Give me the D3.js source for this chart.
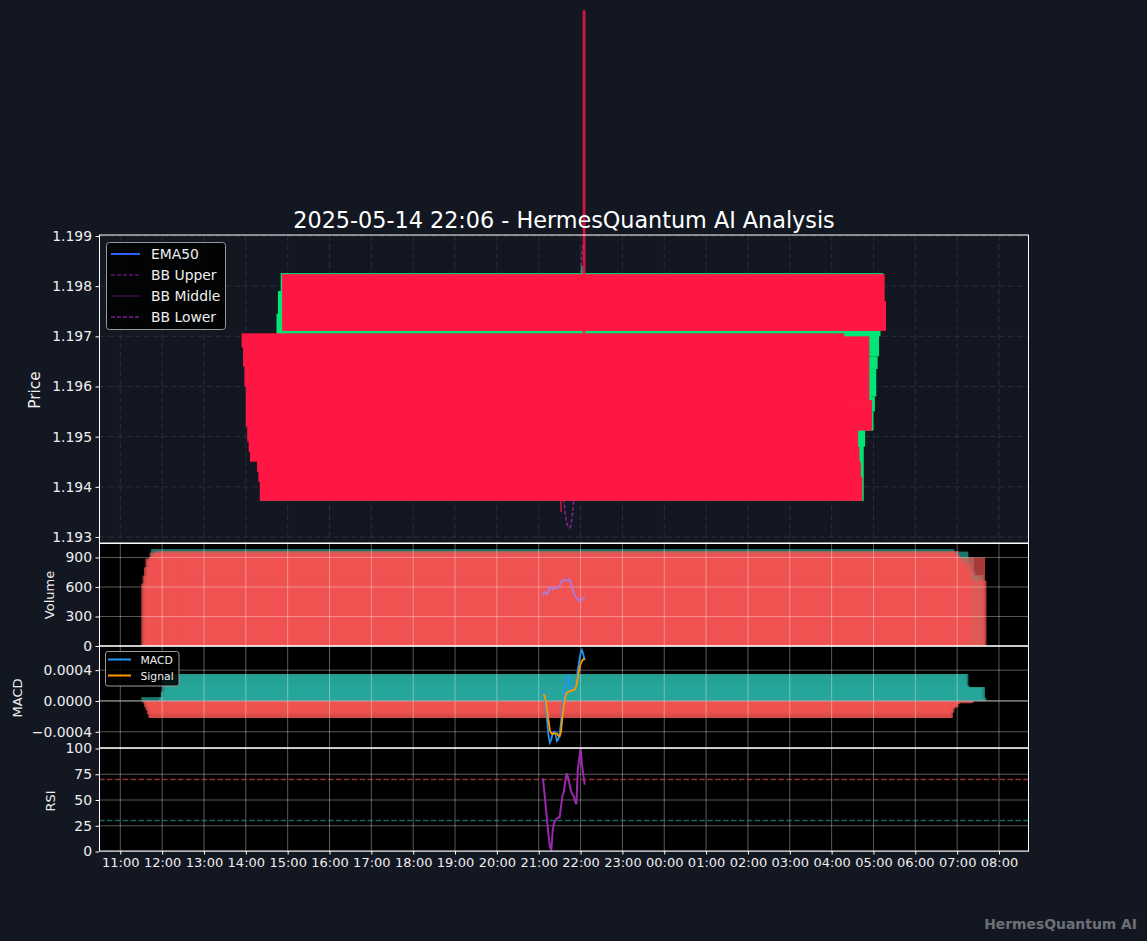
<!DOCTYPE html>
<html><head><meta charset="utf-8">
<script src="https://cdn.jsdelivr.net/npm/d3@7"></script>
<style>body{margin:0;background:#131722;}svg{display:block;font-family:"DejaVu Sans",sans-serif;}</style>
</head><body><svg id="chart" width="1147" height="941"></svg>
<script>
// ---------------- data ----------------
const times = ["2025-05-14 21:06","2025-05-14 21:08","2025-05-14 21:10","2025-05-14 21:12","2025-05-14 21:14","2025-05-14 21:16","2025-05-14 21:18","2025-05-14 21:20","2025-05-14 21:22","2025-05-14 21:24","2025-05-14 21:26","2025-05-14 21:28","2025-05-14 21:30","2025-05-14 21:32","2025-05-14 21:34","2025-05-14 21:36","2025-05-14 21:38","2025-05-14 21:40","2025-05-14 21:42","2025-05-14 21:44","2025-05-14 21:46","2025-05-14 21:48","2025-05-14 21:50","2025-05-14 21:52","2025-05-14 21:54","2025-05-14 21:56","2025-05-14 21:58","2025-05-14 22:00","2025-05-14 22:02","2025-05-14 22:04","2025-05-14 22:06"];
const opens  = [1.19706,1.19690,1.19660,1.19620,1.19560,1.19510,1.19490,1.19455,1.19500,1.19480,1.19515,1.19480,1.19450,1.19420,1.19372,1.19480,1.19650,1.19600,1.19700,1.19573,1.19573,1.19512,1.19550,1.19580,1.19635,1.19660,1.19700,1.19750,1.19740,1.19824,1.19770];
const highs  = [1.19706,1.19700,1.19680,1.19640,1.19580,1.19530,1.19500,1.19510,1.19510,1.19490,1.19520,1.19490,1.19460,1.19430,1.19520,1.19610,1.19660,1.19700,1.19705,1.19610,1.19580,1.19560,1.19590,1.19640,1.19670,1.19750,1.19800,1.19810,1.19840,1.20350,1.20350];
const lows   = [1.19665,1.19630,1.19590,1.19510,1.19480,1.19460,1.19440,1.19450,1.19460,1.19455,1.19470,1.19425,1.19400,1.19350,1.19372,1.19470,1.19590,1.19590,1.19560,1.19560,1.19505,1.19505,1.19540,1.19570,1.19630,1.19650,1.19690,1.19740,1.19730,1.19700,1.19705];
const closes = [1.19678,1.19640,1.19600,1.19520,1.19490,1.19470,1.19450,1.19500,1.19470,1.19460,1.19475,1.19430,1.19410,1.19372,1.19515,1.19600,1.19600,1.19690,1.19573,1.19600,1.19512,1.19550,1.19580,1.19635,1.19660,1.19745,1.19790,1.19790,1.19826,1.19711,1.19711];
const ema50    = [1.19590,1.19588,1.19586,1.19584,1.19581,1.19578,1.19575,1.19573,1.19571,1.19569,1.19567,1.19565,1.19562,1.19559,1.19558,1.19558,1.19559,1.19560,1.19561,1.19562,1.19562,1.19562,1.19563,1.19565,1.19567,1.19570,1.19574,1.19578,1.19583,1.19588,1.19592];
const bbUpper  = [1.19790,1.19792,1.19795,1.19798,1.19800,1.19800,1.19798,1.19795,1.19790,1.19785,1.19780,1.19778,1.19776,1.19775,1.19776,1.19780,1.19785,1.19790,1.19795,1.19798,1.19800,1.19802,1.19804,1.19806,1.19808,1.19812,1.19818,1.19824,1.19870,1.19885,1.19880];
const bbMiddle = [1.19675,1.19662,1.19648,1.19634,1.19620,1.19606,1.19594,1.19588,1.19584,1.19582,1.19580,1.19578,1.19575,1.19572,1.19560,1.19555,1.19560,1.19562,1.19560,1.19558,1.19561,1.19571,1.19588,1.19603,1.19614,1.19628,1.19634,1.19642,1.19670,1.19682,1.19685];
const bbLower  = [1.19560,1.19530,1.19500,1.19470,1.19440,1.19410,1.19390,1.19385,1.19390,1.19392,1.19395,1.19395,1.19393,1.19390,1.19385,1.19380,1.19345,1.19330,1.19320,1.19318,1.19322,1.19340,1.19372,1.19400,1.19420,1.19440,1.19450,1.19460,1.19470,1.19480,1.19490];
const volumes  = [635,716,800,890,870,900,950,985,930,940,965,920,905,880,850,870,820,960,850,800,780,900,760,700,720,680,650,700,720,900,665];
const volumeMA = [519,550,540,525,560,600,595,575,585,590,583,600,614,650,665,672,668,662,670,680,640,590,540,510,495,481,460,455,475,485,501];
const macdLine   = [0.00014,0.00004,-0.00007,-0.00025,-0.00045,-0.00054,-0.00050,-0.00042,-0.00040,-0.00043,-0.00052,-0.00050,-0.00042,-0.00028,-0.00010,0.00008,0.00022,0.00031,0.00033,0.00022,0.00015,0.00014,0.00014,0.00016,0.00027,0.00040,0.00052,0.00062,0.00066,0.00060,0.00053];
const signalLine = [0.00008,0.00008,0.00000,-0.00012,-0.00025,-0.00038,-0.00042,-0.00043,-0.00042,-0.00042,-0.00042,-0.00045,-0.00046,-0.00040,-0.00020,-0.00005,0.00005,0.00010,0.00012,0.00012,0.00013,0.00014,0.00014,0.00015,0.00020,0.00030,0.00040,0.00048,0.00052,0.00054,0.00055];
const macdHist   = [0.00005,-0.00003,-0.00008,-0.00012,-0.00017,-0.00022,-0.00022,-0.00015,-0.00010,-0.00008,-0.00008,-0.00004,0.00002,0.00005,0.00012,0.00033,0.00035,0.00035,0.00020,0.00008,-0.00003,-0.00002,0.00003,0.00008,0.00010,0.00012,0.00015,0.00017,0.00018,0.00018,0.00004];
const rsiValues  = [71,58,44,30,16,5,1,20,28,30,32,33,33,44,54,58,68,76,72,66,59,56,54,49,46,79,90,100,85,74,65];
const priceTicks = [1.193,1.194,1.195,1.196,1.197,1.198,1.199];
const volumeTicks = [0,300,600,900];
const macdTicks = [-0.0004,0,0.0004];
const rsiTicks = [0,25,50,75,100];
const xDomain = ["2025-05-14 10:29:28","2025-05-15 08:43:00"];
const titleText = "2025-05-14 22:06 - HermesQuantum AI Analysis";

// ---------------- setup ----------------
const svg = d3.select("#chart");
const parse = d3.timeParse("%Y-%m-%d %H:%M");
const parseS = d3.timeParse("%Y-%m-%d %H:%M:%S");
const dates = times.map(parse);
const DAY = 864e5;
const L = 99, R = 1029;
const P = {price:[235,543], vol:[543.5,646], macd:[646,748], rsi:[748,851]};
const FONT = '"DejaVu Sans", sans-serif';

const x = d3.scaleTime().domain(xDomain.map(parseS)).range([L, R]);
const yP = d3.scaleLinear().domain([1.19288, 1.19902]).range([543, 235]);
const yV = d3.scaleLinear().domain([0, 1037]).range([646, 544]);
const yM = d3.scaleLinear().domain([-0.00061, 0.000713]).range([748, 646]);
const yR = d3.scaleLinear().domain([0, 100]).range([851.5, 748.5]);

const rows = dates.map((d,i)=>({d, i, o:opens[i], h:highs[i], l:lows[i], c:closes[i], v:volumes[i], up: closes[i] > opens[i]}));

svg.append("rect").attr("width",1147).attr("height",941).attr("fill","#131722");
svg.append("rect").attr("x",L).attr("y",P.price[0]).attr("width",R-L).attr("height",P.price[1]-P.price[0]).attr("fill","#131722");
[P.vol,P.macd,P.rsi].forEach(p=>svg.append("rect").attr("x",L).attr("y",p[0]).attr("width",R-L).attr("height",p[1]-p[0]).attr("fill","#000000"));

const defs = svg.append("defs");
[["cv",P.vol],["cm",P.macd],["cr",P.rsi]].forEach(([id,p])=>{
  defs.append("clipPath").attr("id",id).append("rect").attr("x",L).attr("y",p[0]).attr("width",R-L).attr("height",p[1]-p[0]);
});

const hourTicks = d3.timeHour.range(parse("2025-05-14 11:00"), parse("2025-05-15 08:01"));

// ---------------- price panel ----------------
const gp = svg.append("g");
gp.selectAll(".vg").data(hourTicks).join("line").attr("x1",d=>x(d)).attr("x2",d=>x(d)).attr("y1",P.price[0]).attr("y2",P.price[1])
  .attr("stroke","#2a2e39").attr("stroke-width",1).attr("stroke-dasharray","6,3");
gp.selectAll(".hg").data(priceTicks).join("line").attr("x1",L).attr("x2",R).attr("y1",d=>yP(d)).attr("y2",d=>yP(d))
  .attr("stroke","#2a2e39").attr("stroke-width",1).attr("stroke-dasharray","6,3");

const lineP = arr => d3.line().x((d,i)=>x(dates[i])).y(d=>yP(d))(arr);
gp.append("path").attr("d",lineP(ema50)).attr("fill","none").attr("stroke","#2962ff").attr("stroke-width",1.5);
gp.append("path").attr("d",lineP(bbUpper)).attr("fill","none").attr("stroke","#9c27b0").attr("stroke-opacity",0.75).attr("stroke-width",1.4).attr("stroke-dasharray","4,2");
gp.append("path").attr("d",lineP(bbMiddle)).attr("fill","none").attr("stroke","#9c27b0").attr("stroke-opacity",0.5).attr("stroke-width",1);
gp.append("path").attr("d",lineP(bbLower)).attr("fill","none").attr("stroke","#9c27b0").attr("stroke-opacity",0.85).attr("stroke-width",1.4).attr("stroke-dasharray","4,2");

const bodyX0 = r => x(new Date(+r.d - 0.3*DAY));
const bodyX1 = r => x(new Date(+r.d + 0.3*DAY));
function drawCandles(data, color){
  gp.append("g").selectAll("line").data(data).join("line")
    .attr("x1",r=>x(r.d)).attr("x2",r=>x(r.d)).attr("y1",r=>yP(r.h)).attr("y2",r=>yP(r.l))
    .attr("stroke",color).attr("stroke-opacity",0.8).attr("stroke-width",1.5);
  gp.append("g").selectAll("rect").data(data).join("rect")
    .attr("x",bodyX0).attr("width",r=>bodyX1(r)-bodyX0(r))
    .attr("y",r=>yP(Math.max(r.o,r.c))).attr("height",r=>Math.max(1,Math.abs(yP(r.o)-yP(r.c))))
    .attr("fill",color);
}
drawCandles(rows.filter(r=>r.up), "#00e676");
drawCandles(rows.filter(r=>!r.up), "#ff1744");

// legend
const lg = svg.append("g");
lg.append("rect").attr("x",106.5).attr("y",242.5).attr("width",119).attr("height",87).attr("rx",3)
  .attr("fill","#000").attr("fill-opacity",0.85).attr("stroke","#9a9a9a").attr("stroke-width",1);
const legItems = [
  {t:"EMA50", c:"#2962ff", o:1, dash:null, w:2},
  {t:"BB Upper", c:"#9c27b0", o:0.6, dash:"4,2", w:1.4},
  {t:"BB Middle", c:"#9c27b0", o:0.45, dash:null, w:1.2},
  {t:"BB Lower", c:"#9c27b0", o:0.8, dash:"4,2", w:1.4}];
legItems.forEach((it,k)=>{
  const cy = 254 + k*21;
  lg.append("line").attr("x1",111).attr("x2",140).attr("y1",cy).attr("y2",cy).attr("stroke",it.c).attr("stroke-opacity",it.o)
    .attr("stroke-width",it.w).attr("stroke-dasharray",it.dash);
  lg.append("text").attr("x",151).attr("y",cy+5).text(it.t).attr("fill","#eeeeee").attr("font-size",13.9).attr("font-family",FONT);
});

// ---------------- volume panel (up bars first, then down bars) ----------------
const gv = svg.append("g").attr("clip-path","url(#cv)");
const barX0 = r => x(new Date(+r.d - 0.4*DAY));
const barX1 = r => x(new Date(+r.d + 0.4*DAY));
[rows.filter(r=>r.up), rows.filter(r=>!r.up)].forEach((set,k)=>{
  gv.append("g").selectAll("rect").data(set).join("rect")
    .attr("x",barX0).attr("width",r=>barX1(r)-barX0(r)).attr("y",r=>yV(r.v)).attr("height",r=>yV(0)-yV(r.v))
    .attr("fill",k===0?"#26a69a":"#ef5350").attr("fill-opacity",0.7);
});

// ---------------- macd panel ----------------
const gm = svg.append("g").attr("clip-path","url(#cm)");
gm.selectAll("rect").data(rows).join("rect")
  .attr("x",barX0).attr("width",r=>barX1(r)-barX0(r))
  .attr("y",r=>yM(Math.max(0,macdHist[r.i]))).attr("height",r=>Math.abs(yM(macdHist[r.i])-yM(0)))
  .attr("fill",r=>macdHist[r.i]>=0?"#26a69a":"#ef5350").attr("fill-opacity",0.7);

function grid(p, scale, ticks){
  const g = svg.append("g");
  g.selectAll(".v").data(hourTicks).join("line").attr("x1",d=>x(d)).attr("x2",d=>x(d)).attr("y1",p[0]).attr("y2",p[1])
    .attr("stroke","#fff").attr("stroke-opacity",0.35).attr("stroke-width",1);
  g.selectAll(".h").data(ticks).join("line").attr("x1",L).attr("x2",R).attr("y1",d=>scale(d)).attr("y2",d=>scale(d))
    .attr("stroke","#fff").attr("stroke-opacity",0.35).attr("stroke-width",1);
}
grid(P.vol, yV, volumeTicks);
grid(P.macd, yM, macdTicks);
grid(P.rsi, yR, rsiTicks);

svg.append("line").attr("x1",L).attr("x2",R).attr("y1",yM(0)).attr("y2",yM(0)).attr("stroke","#9e9e9e").attr("stroke-opacity",0.8).attr("stroke-width",1.2);

svg.append("path").attr("d",d3.line().x((d,i)=>x(dates[i])).y(d=>yV(d))(volumeMA))
  .attr("fill","none").attr("stroke","#a77de0").attr("stroke-width",1.8);
svg.append("path").attr("d",d3.line().x((d,i)=>x(dates[i])).y(d=>yM(d))(macdLine))
  .attr("fill","none").attr("stroke","#2196f3").attr("stroke-width",1.8);
svg.append("path").attr("d",d3.line().x((d,i)=>x(dates[i])).y(d=>yM(d))(signalLine))
  .attr("fill","none").attr("stroke","#ff9800").attr("stroke-width",1.8);

// macd legend
const ml = svg.append("g");
ml.append("rect").attr("x",105.5).attr("y",651.5).attr("width",73.5).attr("height",34.5).attr("rx",2.5)
  .attr("fill","#000").attr("fill-opacity",0.85).attr("stroke","#9a9a9a").attr("stroke-width",1);
[["MACD","#2196f3",659.5],["Signal","#ff9800",675.5]].forEach(([t,c,cy])=>{
  ml.append("line").attr("x1",108).attr("x2",131).attr("y1",cy).attr("y2",cy).attr("stroke",c).attr("stroke-width",2);
  ml.append("text").attr("x",140.5).attr("y",cy+4).text(t).attr("fill","#eeeeee").attr("font-size",10.8).attr("font-family",FONT);
});

// ---------------- rsi panel ----------------
svg.append("line").attr("x1",L).attr("x2",R).attr("y1",yR(70)).attr("y2",yR(70)).attr("stroke","#ef5350").attr("stroke-opacity",0.6).attr("stroke-width",1.5).attr("stroke-dasharray","5.5,2.4");
svg.append("line").attr("x1",L).attr("x2",R).attr("y1",yR(30)).attr("y2",yR(30)).attr("stroke","#26a69a").attr("stroke-opacity",0.6).attr("stroke-width",1.5).attr("stroke-dasharray","5.5,2.4");
svg.append("path").attr("d",d3.line().x((d,i)=>x(dates[i])).y(d=>yR(d))(rsiValues))
  .attr("fill","none").attr("stroke","#9c27b0").attr("stroke-width",2);

// ---------------- spines & axes ----------------
[P.price,P.vol,P.macd,P.rsi].forEach(p=>svg.append("rect").attr("x",L+0.5).attr("y",p[0]).attr("width",R-L-1).attr("height",p[1]-p[0])
  .attr("fill","none").attr("stroke","#ffffff").attr("stroke-width",1));

function styleAxis(fs){
  return g=>{
    g.select(".domain").remove();
    g.selectAll(".tick line").attr("stroke","#ffffff");
    g.selectAll(".tick text").attr("fill","#eeeeee").attr("font-size",fs).attr("font-family",FONT);
  };
}
svg.append("g").attr("transform",`translate(${L},0)`).call(d3.axisLeft(yP).tickValues(priceTicks).tickFormat(d3.format(".3f")).tickSize(3.5).tickPadding(3.5)).call(styleAxis(13.9));
svg.append("g").attr("transform",`translate(${L},0)`).call(d3.axisLeft(yV).tickValues(volumeTicks).tickFormat(d3.format("d")).tickSize(3.5).tickPadding(3.5)).call(styleAxis(13.9));
svg.append("g").attr("transform",`translate(${L},0)`).call(d3.axisLeft(yM).tickValues(macdTicks).tickFormat(d3.format(".4f")).tickSize(3.5).tickPadding(3.5)).call(styleAxis(13.9));
svg.append("g").attr("transform",`translate(${L},0)`).call(d3.axisLeft(yR).tickValues(rsiTicks).tickFormat(d3.format("d")).tickSize(3.5).tickPadding(3.5)).call(styleAxis(13.9));
svg.append("g").attr("transform",`translate(0,${P.rsi[1]})`).call(d3.axisBottom(x).tickValues(hourTicks).tickFormat(d3.timeFormat("%H:%M")).tickSize(3.5).tickPadding(3.5)).call(styleAxis(13));

const ylab = (t,cx,cy,fs)=>svg.append("text").attr("transform",`translate(${cx},${cy}) rotate(-90)`).attr("text-anchor","middle")
  .attr("dominant-baseline","central").text(t).attr("fill","#eeeeee").attr("font-size",fs).attr("font-family",FONT);
ylab("Price",35,390,15.3);
ylab("Volume",49,595,13);
ylab("MACD",17,698,13);
ylab("RSI",50,801,13);

svg.append("text").attr("x",(L+R)/2).attr("y",228).attr("text-anchor","middle").text(titleText)
  .attr("fill","#ffffff").attr("font-size",22.3).attr("font-family",FONT);
svg.append("text").attr("x",1137).attr("y",929).attr("text-anchor","end").text("HermesQuantum AI")
  .attr("fill","#ffffff").attr("fill-opacity",0.4).attr("font-weight","bold").attr("font-size",13.9).attr("font-family",FONT);
</script></body></html>
